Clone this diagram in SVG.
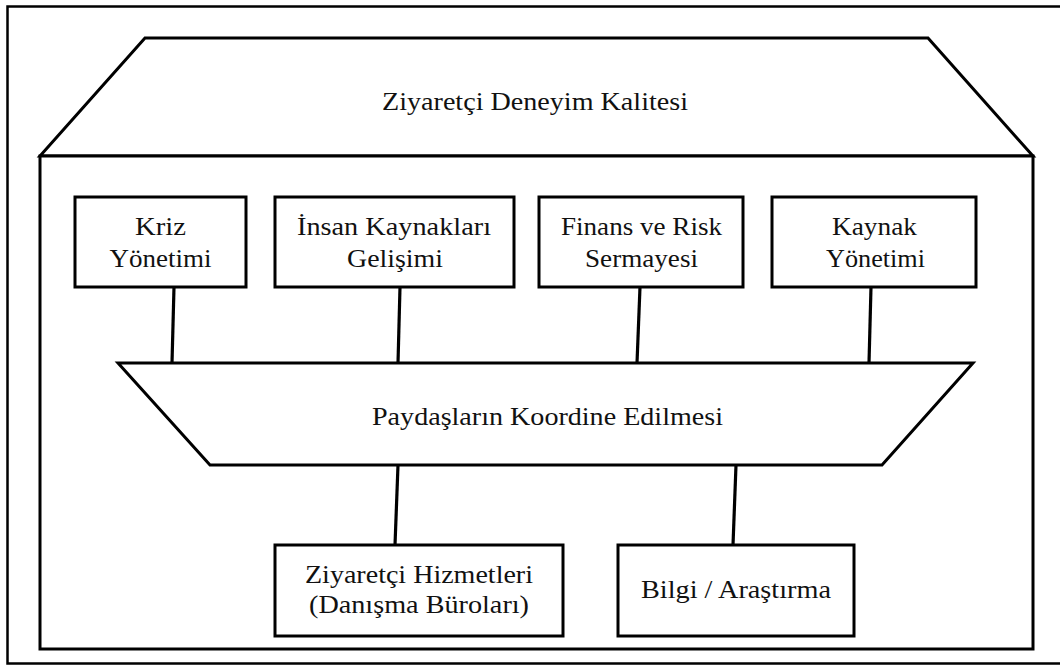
<svg xmlns="http://www.w3.org/2000/svg" width="1060" height="666" viewBox="0 0 1060 666">
<style>
.s{fill:#fff;stroke:#000;stroke-width:3}
.c{fill:none;stroke:#000;stroke-width:3.2}
text{font-family:"Liberation Serif","Times New Roman",serif;font-size:26px;fill:#111;text-anchor:middle}
</style>
<rect width="1060" height="666" fill="#fff"/>
<path d="M1062 6.5 H7.5 V663.5 H1062" fill="none" stroke="#000" stroke-width="2.5"/>
<g id="house">
<polygon class="s" points="145,38 928,38 1033,156 40,156"/>
<rect class="s" x="40" y="156" width="993" height="493"/>
<text x="535" y="110" textLength="306" lengthAdjust="spacingAndGlyphs">Ziyaretçi Deneyim Kalitesi</text>
</g>
<g id="connectors">
<line class="c" x1="174" y1="287" x2="172" y2="363"/>
<line class="c" x1="400" y1="287" x2="398" y2="363"/>
<line class="c" x1="640" y1="287" x2="637" y2="363"/>
<line class="c" x1="871" y1="287" x2="869" y2="363"/>
<line class="c" x1="398" y1="465" x2="395" y2="545"/>
<line class="c" x1="736" y1="465" x2="733" y2="545"/>
</g>
<g id="kriz">
<rect class="s" x="75" y="197" width="171" height="90"/>
<text x="160.5" y="235" textLength="51" lengthAdjust="spacingAndGlyphs">Kriz</text>
<text x="160.5" y="267" textLength="102" lengthAdjust="spacingAndGlyphs">Yönetimi</text>
</g>
<g id="insan">
<rect class="s" x="275" y="197" width="239" height="90"/>
<text x="394" y="235" textLength="194" lengthAdjust="spacingAndGlyphs">İnsan Kaynakları</text>
<text x="395" y="267" textLength="96" lengthAdjust="spacingAndGlyphs">Gelişimi</text>
</g>
<g id="finans">
<rect class="s" x="539" y="197" width="204" height="90"/>
<text x="641.5" y="235" textLength="161" lengthAdjust="spacingAndGlyphs">Finans ve Risk</text>
<text x="641.5" y="267" textLength="113" lengthAdjust="spacingAndGlyphs">Sermayesi</text>
</g>
<g id="kaynak">
<rect class="s" x="772" y="197" width="204" height="90"/>
<text x="874.5" y="235" textLength="85" lengthAdjust="spacingAndGlyphs">Kaynak</text>
<text x="875.5" y="267" textLength="99" lengthAdjust="spacingAndGlyphs">Yönetimi</text>
</g>
<g id="paydas">
<polygon class="s" points="118,363 973,363 882,465 210,465"/>
<text x="547.5" y="425" textLength="351" lengthAdjust="spacingAndGlyphs">Paydaşların Koordine Edilmesi</text>
</g>
<g id="ziyaretci">
<rect class="s" x="275" y="545" width="288" height="91"/>
<text x="419" y="583" textLength="228" lengthAdjust="spacingAndGlyphs">Ziyaretçi Hizmetleri</text>
<text x="419" y="613" textLength="220" lengthAdjust="spacingAndGlyphs">(Danışma Büroları)</text>
</g>
<g id="bilgi">
<rect class="s" x="618" y="545" width="236" height="91"/>
<text x="736" y="598" textLength="190" lengthAdjust="spacingAndGlyphs">Bilgi / Araştırma</text>
</g>
</svg>
